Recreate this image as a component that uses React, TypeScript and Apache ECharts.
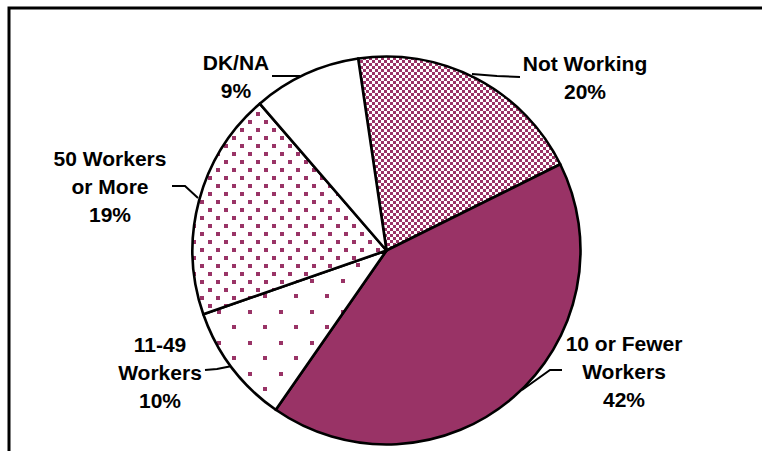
import React, { useEffect, useRef } from "react";
import * as echarts from "echarts";

const categories = ["Not Working", "10 or Fewer\nWorkers", "11-49\nWorkers", "50 Workers\nor More", "DK/NA"];
const percents = [20, 42, 10, 19, 9];

const PURPLE = "#993366";

function makeTile(kind: string) {
  const c = document.createElement("canvas");
  const ctx = c.getContext("2d")!;
  if (kind === "checker") {
    c.width = 6; c.height = 6;
    ctx.fillStyle = "#fff"; ctx.fillRect(0, 0, 6, 6);
    ctx.fillStyle = PURPLE;
    ctx.fillRect(0, 0, 3, 3); ctx.fillRect(3, 3, 3, 3);
  } else if (kind === "dense") {
    c.width = 16; c.height = 16;
    ctx.fillStyle = "#fff"; ctx.fillRect(0, 0, 16, 16);
    ctx.fillStyle = PURPLE;
    ctx.fillRect(0, 0, 4, 4); ctx.fillRect(8, 8, 4, 4);
  } else {
    c.width = 31; c.height = 31;
    ctx.fillStyle = "#fff"; ctx.fillRect(0, 0, 31, 31);
    ctx.fillStyle = PURPLE;
    ctx.fillRect(0, 0, 4, 4); ctx.fillRect(15, 15, 4, 4);
  }
  return { image: c.toDataURL(), repeat: "repeat", imageWidth: c.width, imageHeight: c.height } as any;
}

const labelPos = [
  { x: 585, y: 77, line: [[472, 74], [497, 76], [520, 77]] },
  { x: 624, y: 371, line: [[522, 390], [550, 370], [562, 370]] },
  { x: 160, y: 372, line: [[232, 366], [217, 369], [205, 370]] },
  { x: 110, y: 186, line: [[198, 198], [185, 186], [172, 186]] },
  { x: 236, y: 76, line: [[300, 76], [286, 76], [272, 76]] },
];

export default function App() {
  const ref = useRef<HTMLDivElement>(null);
  useEffect(() => {
    if (!ref.current) return;
    const chart = echarts.init(ref.current, null, { renderer: "svg" });
    const fills = [makeTile("checker"), PURPLE, makeTile("sparse"), makeTile("dense"), "#ffffff"];
    chart.setOption({
      animation: false,
      backgroundColor: "#fff",
      graphic: [
        {
          type: "rect",
          shape: { x: 9, y: 8, width: 1000, height: 1000 },
          style: { fill: "none", stroke: "#000", lineWidth: 3 },
          z: -1,
          silent: true,
        },
      ],
      series: [
        {
          type: "pie",
          center: [386.5, 250.5],
          radius: 194,
          startAngle: 98.4,
          clockwise: true,
          silent: true,
          emphasis: { disabled: true },
          itemStyle: { borderColor: "#000", borderWidth: 2.6 },
          label: {
            show: true,
            position: "outside",
            color: "#000",
            fontFamily: "Liberation Sans, Arial, sans-serif",
            fontWeight: "bold",
            fontSize: 21,
            lineHeight: 28,
            align: "center",
            formatter: (p: any) => `${p.name}\n${p.value}%`,
          },
          labelLine: { show: true, lineStyle: { color: "#000", width: 2 } },
          labelLayout: (params: any) => {
            const lp = labelPos[params.dataIndex];
            return {
              x: lp.x,
              y: lp.y,
              align: "center",
              verticalAlign: "middle",
              labelLinePoints: lp.line,
            };
          },
          data: categories.map((c, i) => ({
            name: c,
            value: percents[i],
            itemStyle: { color: fills[i] },
          })),
        },
      ],
    });
    return () => chart.dispose();
  }, []);
  return (
    <div
      ref={ref}
      style={{ position: "fixed", left: 0, top: 0, width: 762, height: 451 }}
    />
  );
}
